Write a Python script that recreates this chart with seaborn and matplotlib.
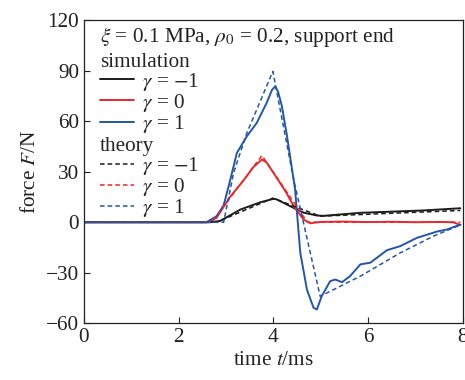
import matplotlib
matplotlib.use("Agg")
import matplotlib.pyplot as plt
import seaborn as sns

# simulation curves (time in ms, force in N)
sim_m1_t = [0, 2.65, 2.88, 3.30, 3.72, 4.00, 4.07, 4.43, 4.64, 4.92, 5.06, 5.84, 7.17, 7.95]
sim_m1_f = [0, 0, 0.8, 7.5, 11.8, 13.9, 13.6, 8.5, 5.7, 4.0, 3.8, 5.6, 7.0, 8.3]

sim_0_t = [0, 2.59, 2.80, 3.09, 3.37, 3.58, 3.76, 3.86, 4.10, 4.28, 4.43, 4.64, 4.78, 5.00,
           5.50, 6.00, 6.50, 7.00, 7.50, 7.80, 7.95]
sim_0_f = [0, 0, 2.6, 15.2, 24.8, 32.8, 37.3, 35.4, 25.2, 17.3, 9.5, 1.6, -0.6, 0.2,
           0.4, 0.1, 0.3, 0.0, 0.2, 0.0, -1.6]

sim_1_t = [0, 2.59, 2.80, 2.95, 3.08, 3.23, 3.44, 3.65, 3.86, 3.97, 4.04, 4.10, 4.18, 4.29,
           4.46, 4.57, 4.71, 4.85, 4.92, 5.02, 5.10, 5.20, 5.31, 5.45, 5.62, 5.84, 6.05,
           6.40, 6.68, 7.03, 7.46, 7.67, 7.95]
sim_1_f = [0, 0, 3.6, 10.0, 24.0, 41.2, 51.0, 59.0, 70.9, 78.5, 80.7, 77.5, 69.0, 51.0,
           19.4, -18.2, -40.0, -50.8, -51.8, -44.0, -40.0, -35.0, -34.0, -35.6, -32.0, -25.0,
           -24.0, -16.6, -14.2, -9.3, -5.5, -4.3, -1.4]

# theory curves
th_m1_t = [0, 2.80, 3.99, 4.99, 7.95]
th_m1_f = [0, 0, 14.3, 3.6, 7.0]

th_0_t = [0, 2.70, 3.76, 4.72, 7.95]
th_0_f = [0, 0, 39.6, 0, 0]

th_1_t = [0, 2.95, 3.16, 3.44, 3.65, 3.99, 4.43, 4.99, 5.06, 5.84, 6.68, 7.38, 7.95]
th_1_f = [0, 0, 29.3, 53.0, 66.9, 89.6, 25.3, -44.0, -43.0, -32.0, -18.2, -8.3, -1.6]

labels = [r"$\gamma$ = $-$1", r"$\gamma$ = 0", r"$\gamma$ = 1"]
colors = ["#1c1c1c", "#e8282c", "#2356a8"]

sns.set_style("ticks")
plt.rcParams["font.family"] = ["Liberation Serif", "DejaVu Serif"]
plt.rcParams["mathtext.fontset"] = "stix"
fs = 15.3

fig = plt.figure(figsize=(4.65, 3.8), dpi=100)
ax = fig.add_axes([0.1806, 0.1492, 0.8144, 0.7978])

sim_lines = []
for t, f, c, lab in zip([sim_m1_t, sim_0_t, sim_1_t], [sim_m1_f, sim_0_f, sim_1_f], colors, labels):
    sns.lineplot(x=t, y=f, ax=ax, color=c, lw=1.4, sort=False, label=lab, legend=False)
    sim_lines.append(ax.lines[-1])

th_lines = []
for t, f, c, lab in zip([th_m1_t, th_0_t, th_1_t], [th_m1_f, th_0_f, th_1_f], colors, labels):
    sns.lineplot(x=t, y=f, ax=ax, color=c, lw=1.1, sort=False, label=lab, legend=False,
                 linestyle=(0, (3, 2)))
    th_lines.append(ax.lines[-1])

ax.set_xlim(0, 8)
ax.set_ylim(-60, 120)
ax.set_xticks([0, 2, 4, 6, 8])
ax.set_yticks([-60, -30, 0, 30, 60, 90, 120])
ax.tick_params(direction="in", length=4, width=0.8, labelsize=fs, colors="#222222")
for s in ax.spines.values():
    s.set_linewidth(0.9)
    s.set_color("#222222")
ax.set_xlabel(r"time $t$/ms", fontsize=fs, color="#222222", labelpad=3)
ax.set_ylabel(r"force $F$/N", fontsize=fs, color="#222222")

ax.text(0.042, 0.985, r"$\xi$ = 0.1 MPa, $\rho_0$ = 0.2, support end",
        transform=ax.transAxes, ha="left", va="top", fontsize=fs, color="#222222")

leg_kw = dict(frameon=False, fontsize=fs, title_fontsize=fs, alignment="left",
              loc="upper left", borderpad=0, borderaxespad=0, handlelength=1.6,
              handletextpad=0.4, labelspacing=-0.04)
leg1 = ax.legend(handles=sim_lines, labels=labels, title="simulation",
                 bbox_to_anchor=(0.042, 0.893), **leg_kw)
ax.add_artist(leg1)
leg2 = ax.legend(handles=th_lines, labels=labels, title="theory",
                 bbox_to_anchor=(0.042, 0.615), **leg_kw)

fig.savefig("out.png", dpi=100)
